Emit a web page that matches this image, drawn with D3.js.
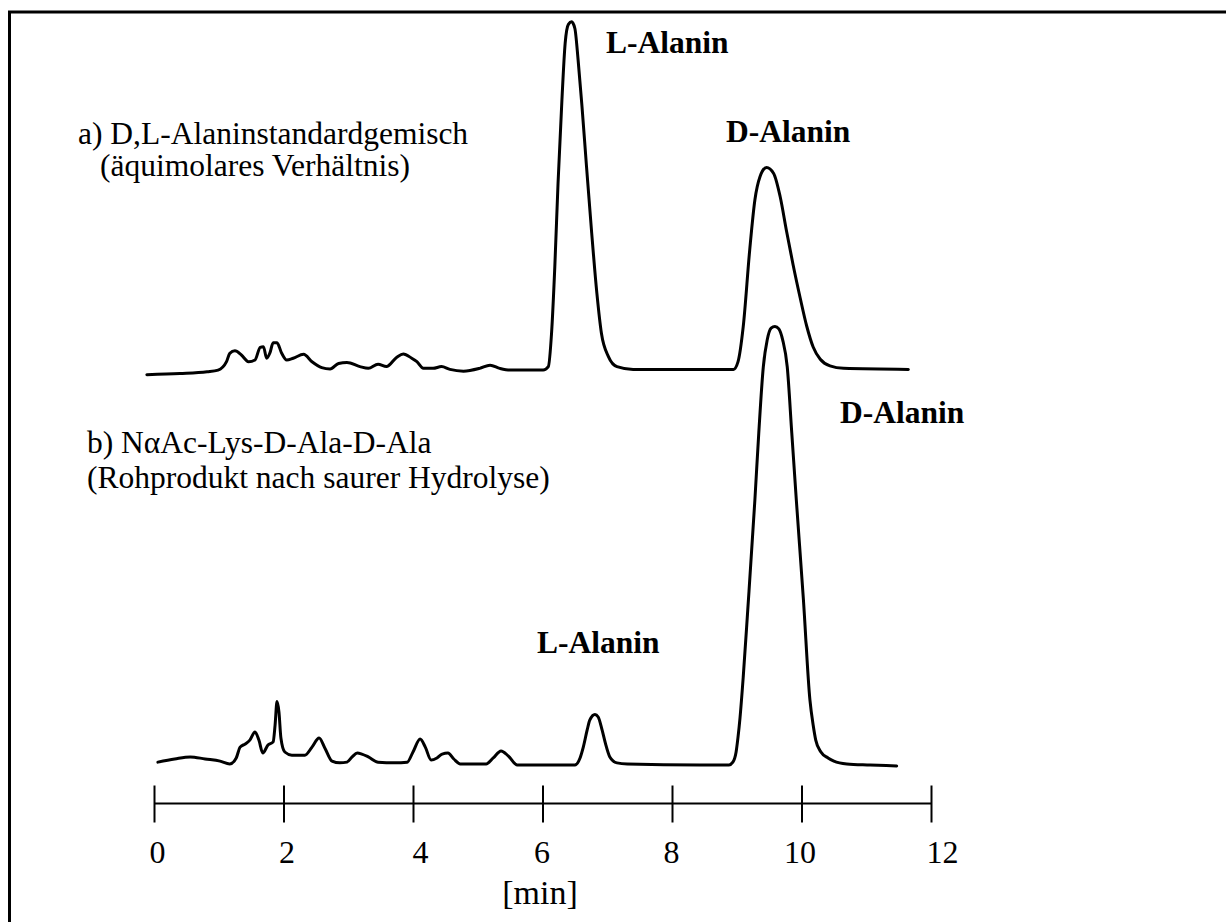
<!DOCTYPE html>
<html>
<head>
<meta charset="utf-8">
<script src="https://cdn.jsdelivr.net/npm/d3@7"></script>
<style>
  html, body { margin: 0; padding: 0; background: #fff; }
  svg { display: block; }
  text { font-family: "Liberation Serif", "Times New Roman", serif; fill: #000; }
</style>
</head>
<body>
<svg id="chart" width="1226" height="922"></svg>
<script>
// Chromatograms: [retention time (min), detector response (% of L-Alanin peak in a)]
const traceA = [
  [-0.11, 0.1], [0.40, 0.4], [0.82, 0.9], [0.99, 1.4], [1.12, 3.8], [1.17, 6.2],
  [1.25, 6.9], [1.35, 5.7], [1.46, 3.8], [1.56, 4.3], [1.64, 7.9], [1.69, 8.1],
  [1.74, 4.8], [1.79, 6.3], [1.84, 9.2], [1.90, 9.2], [1.97, 6.3], [2.05, 4.3],
  [2.15, 4.8], [2.31, 5.9], [2.44, 3.8], [2.59, 2.1], [2.72, 1.7], [2.85, 3.3],
  [2.98, 3.6], [3.18, 2.4], [3.31, 1.9], [3.46, 3.1], [3.59, 2.4], [3.75, 5.1],
  [3.85, 6.0], [3.98, 4.8], [4.06, 3.8], [4.16, 1.9], [4.31, 1.9], [4.44, 2.4],
  [4.57, 1.6], [4.78, 1.1], [5.03, 1.9], [5.19, 2.8], [5.34, 1.9], [5.50, 1.4],
  [6.01, 1.4], [6.09, 2.4], [6.14, 12.0], [6.19, 30.9], [6.24, 54.8], [6.30, 78.6],
  [6.35, 94.8], [6.40, 100.2], [6.45, 100.9], [6.50, 99.0], [6.55, 90.0], [6.61, 76.7],
  [6.68, 59.5], [6.76, 40.5], [6.84, 23.3], [6.91, 11.9], [7.02, 5.2], [7.15, 2.4],
  [7.40, 1.6], [8.95, 1.6], [9.02, 3.8], [9.10, 13.8], [9.20, 35.7], [9.28, 50.0],
  [9.36, 56.7], [9.46, 59.3], [9.57, 57.6], [9.67, 51.0], [9.77, 41.0], [9.87, 31.5],
  [9.98, 22.0], [10.08, 14.0], [10.18, 8.0], [10.29, 4.5], [10.44, 2.6], [10.65, 1.9],
  [11.65, 1.6]
];

const traceB = [
  [0.06, 1.1], [0.32, 2.0], [0.56, 2.6], [0.79, 2.0], [1.02, 1.4], [1.17, 0.6],
  [1.27, 2.3], [1.33, 5.4], [1.41, 6.3], [1.48, 7.4], [1.56, 9.7], [1.62, 7.4],
  [1.68, 3.7], [1.76, 6.0], [1.84, 6.9], [1.87, 11.7], [1.90, 18.4], [1.93, 15.4],
  [1.96, 8.0], [2.02, 4.0], [2.13, 3.1], [2.33, 3.1], [2.44, 5.4], [2.55, 8.0],
  [2.64, 5.1], [2.75, 1.4], [2.87, 0.9], [2.98, 1.1], [3.06, 2.6], [3.14, 3.7],
  [3.21, 3.4], [3.31, 2.6], [3.46, 1.1], [3.72, 0.9], [3.91, 1.1], [4.00, 4.0],
  [4.11, 7.7], [4.19, 5.4], [4.28, 1.7], [4.37, 2.3], [4.45, 3.4], [4.54, 3.7],
  [4.63, 2.0], [4.73, 0.6], [5.13, 0.6], [5.24, 2.3], [5.36, 4.3], [5.47, 2.9],
  [5.61, 0.3], [6.27, 0.3], [6.50, 0.3], [6.58, 2.3], [6.63, 5.4], [6.69, 10.3],
  [6.73, 13.1], [6.81, 14.7], [6.86, 14.0], [6.92, 10.3], [6.97, 6.6], [7.04, 2.6],
  [7.15, 0.9], [7.31, 0.6], [8.43, 0.3], [8.88, 0.3], [8.94, 1.1], [8.99, 4.0],
  [9.02, 8.3], [9.05, 13.7], [9.10, 25.4], [9.17, 44.6], [9.28, 76.0], [9.34, 95.1],
  [9.41, 114.0], [9.47, 121.7], [9.53, 125.1], [9.59, 125.6], [9.65, 124.9], [9.71, 121.7],
  [9.78, 114.0], [9.85, 95.1], [9.92, 76.0], [10.03, 47.4], [10.13, 18.9], [10.18, 11.7],
  [10.22, 7.4], [10.30, 4.0], [10.41, 2.3], [10.50, 1.4], [10.70, 0.6], [11.06, 0.3],
  [11.47, 0.0]
];

const timeTicks = [0, 2, 4, 6, 8, 10, 12];
const axisTitle = "[min]";
const sampleA = ["a) D,L-Alaninstandardgemisch", "(äquimolares Verhältnis)"];
const sampleB = ["b) NαAc-Lys-D-Ala-D-Ala", "(Rohprodukt nach saurer Hydrolyse)"];
const peakNames = ["L-Alanin", "D-Alanin"];

const svg = d3.select("#chart");

// Frame along the top and left edge
svg.append("path")
  .attr("d", "M9.5,922V12H1226")
  .attr("fill", "none")
  .attr("stroke", "#000")
  .attr("stroke-width", 3);

// Shared time axis, one response scale per trace
const x = d3.scaleLinear().domain([0, 12]).range([154, 931]);
const yA = d3.scaleLinear().domain([0, 100]).range([375, 25]);
const yB = d3.scaleLinear().domain([0, 100]).range([766, 416]);

const lineFor = y => d3.line()
  .x(d => x(d[0]))
  .y(d => y(d[1]))
  .curve(d3.curveMonotoneX);

[[traceA, yA], [traceB, yB]].forEach(([data, y]) => {
  svg.append("path")
    .datum(data)
    .attr("d", lineFor(y))
    .attr("fill", "none")
    .attr("stroke", "#000")
    .attr("stroke-width", 3)
    .attr("stroke-linejoin", "round")
    .attr("stroke-linecap", "round");
});

// Time axis with ticks crossing the line
const axisY = 803.5;
const labelNudge = { 0: 3, 2: 3, 4: 7, 6: -1, 8: -1, 10: -2, 12: 11 };
const axis = d3.axisBottom(x).tickValues(timeTicks).tickSizeOuter(0).tickFormat(d3.format("d"));
const gAxis = svg.append("g").attr("transform", `translate(0,${axisY})`).call(axis);
gAxis.select(".domain").remove();
gAxis.insert("line", ":first-child")
  .attr("x1", x(0)).attr("x2", x(12))
  .attr("stroke", "#000").attr("stroke-width", 2);
gAxis.selectAll(".tick line")
  .attr("y1", -18).attr("y2", 19)
  .attr("stroke", "#000").attr("stroke-width", 2);
gAxis.selectAll(".tick text")
  .attr("y", 59).attr("dy", 0)
  .attr("dx", d => labelNudge[d] || 0)
  .style("font-family", "'Liberation Serif', 'Times New Roman', serif")
  .style("font-size", "32px")
  .attr("fill", "#000");

svg.append("text")
  .attr("x", 540).attr("y", 904)
  .attr("text-anchor", "middle")
  .style("font-size", "34px")
  .text(axisTitle);

// Sample descriptions
const descA = svg.append("text").style("font-size", "31.5px");
descA.append("tspan").attr("x", 78).attr("y", 144).text(sampleA[0]);
descA.append("tspan").attr("x", 100).attr("y", 176).text(sampleA[1]);

const descB = svg.append("text").style("font-size", "31.5px");
descB.append("tspan").attr("x", 87).attr("y", 453).text(sampleB[0]);
descB.append("tspan").attr("x", 87).attr("y", 488).text(sampleB[1]);

// Peak assignments
const peakLabel = (txt, px, py) => svg.append("text")
  .attr("x", px).attr("y", py)
  .style("font-size", "31.5px")
  .style("font-weight", "bold")
  .text(txt);

peakLabel(peakNames[0], 606, 53);
peakLabel(peakNames[1], 726, 142);
peakLabel(peakNames[1], 840, 423);
peakLabel(peakNames[0], 537, 653);
</script>
</body>
</html>
